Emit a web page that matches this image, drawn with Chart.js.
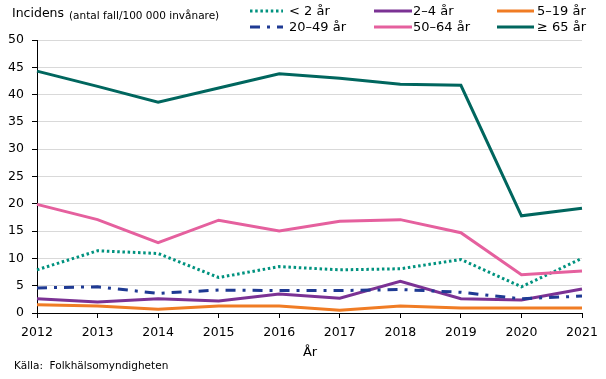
<!DOCTYPE html>
<html>
<head>
<meta charset="utf-8">
<script src="https://cdn.jsdelivr.net/npm/chart.js@4"></script>
<style>
  html, body { margin: 0; padding: 0; background: #fff; }
  #wrap { width: 606px; height: 379px; position: relative; }
</style>
</head>
<body>
<div id="wrap"><canvas id="incidensChart" width="606" height="379"></canvas></div>
<script>
// Data
const years = ['2012', '2013', '2014', '2015', '2016', '2017', '2018', '2019', '2020', '2021'];
const under2 = [7.9, 11.4, 10.9, 6.5, 8.5, 7.9, 8.1, 9.8, 4.8, 10.0];
const age2to4 = [2.6, 2.0, 2.6, 2.2, 3.5, 2.7, 5.8, 2.6, 2.4, 4.4];
const age5to19 = [1.5, 1.3, 0.7, 1.3, 1.3, 0.5, 1.3, 0.9, 0.9, 0.9];
const age20to49 = [4.6, 4.8, 3.6, 4.2, 4.1, 4.1, 4.3, 3.8, 2.6, 3.1];
const age50to64 = [19.9, 17.1, 12.9, 17.0, 15.0, 16.8, 17.1, 14.7, 7.0, 7.7];
const over65 = [44.3, 41.5, 38.6, 41.2, 43.8, 43.0, 41.9, 41.7, 17.8, 19.2];
const seriesLabels = ['< 2 år', '2–4 år', '5–19 år', '20–49 år', '50–64 år', '≥ 65 år'];
const yTicks = [0, 5, 10, 15, 20, 25, 30, 35, 40, 45, 50];

const FONT = "'DejaVu Sans', sans-serif";

// line styles per series
const styles = [
    {color: '#00927f', dash: [2.5, 2.7]},
    {color: '#7b3294', dash: []},
    {color: '#f07c24', dash: []},
    {color: '#1f3a93', dash: [10, 7, 3, 7]},
    {color: '#e5609e', dash: []},
    {color: '#00665e', dash: []}
];
const allData = [under2, age2to4, age5to19, age20to49, age50to64, over65];

// draws title, legend and source text
const extrasPlugin = {
    id: 'extras',
    afterDraw(chart) {
        const ctx = chart.ctx;
        ctx.save();
        ctx.fillStyle = '#000';
        ctx.textBaseline = 'middle';
        ctx.textAlign = 'left';
        ctx.font = '12.5px ' + FONT;
        ctx.fillText('Incidens', 12, 14);
        ctx.font = '10.5px ' + FONT;
        ctx.fillText('(antal fall/100 000 invånare)', 69, 16);

        // legend, 3 columns x 2 rows: [line start, line end, text x]
        const cols = [[250, 283, 289], [374, 412, 413], [497, 534, 537]];
        const rows = [11, 27];
        ctx.font = '13px ' + FONT;
        for (let i = 0; i < 6; i++) {
            const c = cols[i % 3];
            const y = rows[Math.floor(i / 3)];
            ctx.strokeStyle = styles[i].color;
            ctx.lineWidth = 3;
            ctx.setLineDash(styles[i].dash);
            ctx.beginPath();
            ctx.moveTo(c[0], y);
            ctx.lineTo(c[1], y);
            ctx.stroke();
            ctx.setLineDash([]);
            ctx.fillText(seriesLabels[i], c[2], y + 1);
        }

        ctx.textAlign = 'center';
        ctx.font = '13px ' + FONT;
        ctx.fillText('År', 310, 353);
        ctx.textAlign = 'left';
        ctx.font = '10.5px ' + FONT;
        ctx.fillText('Källa:  Folkhälsomyndigheten', 14, 366);
        ctx.restore();
    }
};

const ctx = document.getElementById('incidensChart');
new Chart(ctx, {
    type: 'line',
    data: {
        labels: years,
        datasets: allData.map((d, i) => ({
            label: seriesLabels[i],
            data: d,
            borderColor: styles[i].color,
            backgroundColor: styles[i].color,
            borderDash: styles[i].dash,
            borderWidth: 3,
            pointRadius: 0,
            tension: 0,
            order: 6 - i
        }))
    },
    options: {
        responsive: false,
        animation: false,
        layout: {padding: {top: 40, right: 24, bottom: 0, left: 0}},
        plugins: {legend: {display: false}, tooltip: {enabled: false}},
        scales: {
            x: {
                offset: false,
                grid: {drawOnChartArea: false, tickLength: 5, tickColor: '#000'},
                border: {color: '#000', width: 1},
                ticks: {color: '#000', font: {family: FONT, size: 12.5}, padding: 7, maxRotation: 0, autoSkip: false},
                afterFit(scale) { scale.height = 66; }
            },
            y: {
                min: 0,
                max: 50,
                afterBuildTicks(scale) { scale.ticks = yTicks.map(v => ({value: v})); },
                grid: {color: '#d9d9d9', tickLength: 5, tickColor: '#000'},
                border: {color: '#000', width: 1},
                ticks: {color: '#000', font: {family: FONT, size: 12.5}, padding: 8},
                afterFit(scale) { scale.width = 37; }
            }
        }
    },
    plugins: [extrasPlugin]
});
</script>
</body>
</html>
